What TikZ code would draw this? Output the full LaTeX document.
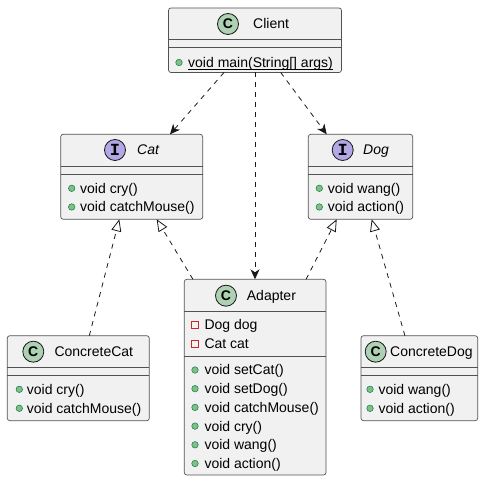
\documentclass[tikz,border=0pt]{standalone}
\usepackage{fontspec}
\setmainfont{Liberation Sans}
\newfontfamily\spotfont{Liberation Mono}
\usetikzlibrary{arrows.meta}
\definecolor{boxfill}{HTML}{F1F1F1}
\definecolor{linec}{HTML}{181818}
\definecolor{spotgreen}{HTML}{ADD1B2}
\definecolor{spotpurple}{HTML}{B4A7E5}
\definecolor{pubfill}{HTML}{84BE84}
\definecolor{pubdraw}{HTML}{038048}
\definecolor{privdraw}{HTML}{C82829}
\tikzset{
  umlbox/.style={draw=linec!75, fill=boxfill, rounded corners=2.5pt, line width=0.7pt, inner sep=0pt, outer sep=0pt},
  sepline/.style={draw=linec!75, line width=0.7pt},
  spotC/.style={circle, draw=linec, fill=spotgreen, line width=0.8pt, minimum size=21pt, inner sep=0pt, font=\bfseries\fontsize{14}{14}\selectfont},
  spotI/.style={circle, draw=linec, fill=spotpurple, line width=0.8pt, minimum size=21pt, inner sep=0pt, font=\spotfont\bfseries\fontsize{17}{17}\selectfont},
  cname/.style={anchor=west, inner sep=0pt, text height=10pt, text depth=0pt, font=\fontsize{14}{16}\selectfont},
  iname/.style={cname, font=\itshape\fontsize{14}{16}\selectfont},
  member/.style={anchor=west, inner sep=0pt, text height=10pt, text depth=0pt, font=\fontsize{14}{16}\selectfont},
  pub/.style={circle, fill=pubfill, draw=pubdraw, minimum size=6.5pt, inner sep=0pt, line width=0.5pt},
  priv/.style={rectangle, draw=privdraw, minimum size=6.5pt, inner sep=0pt, line width=0.8pt},
  uline/.style={draw=black, line width=0.8pt},
  dep/.style={draw=linec, line width=0.8pt, dash pattern=on 5pt off 5pt, -{Stealth[length=10pt,width=9pt,inset=3pt]}},
  real/.style={draw=linec, line width=0.8pt, dash pattern=on 5pt off 5pt, -{Triangle[open,length=12pt,width=10pt]}}
}
\begin{document}
\begin{tikzpicture}[x=1pt,y=-1pt]
\useasboundingbox (0,0) rectangle (483,481);

% Client
\node[umlbox, minimum width=173pt, minimum height=64.5pt] (client) at (255,40.25) {};
\draw[sepline] (client.west |- 0,39.3) -- (client.east |- 0,39.3);
\draw[sepline] (client.west |- 0,47.3) -- (client.east |- 0,47.3);
\node[spotC] (clientspot) at (228,24) {C};
\node[cname] (clientname) at (253,24) {Client};
\node[pub] (cm1i) at (179,62.5) {};
\node[member] (cm1) at (188,62.5) {void main(String[] args)};
\draw[uline] ([yshift=-2pt]cm1.south west) -- ([yshift=-2pt]cm1.south east);

% Cat
\node[umlbox, minimum width=142pt, minimum height=85pt] (cat) at (131.7,176.8) {};
\draw[sepline] (cat.west |- 0,166.7) -- (cat.east |- 0,166.7);
\draw[sepline] (cat.west |- 0,174.3) -- (cat.east |- 0,174.3);
\node[spotI] (catspot) at (115,150) {I};
\node[iname] (catname) at (137,150) {Cat};
\node[pub] (catm1i) at (71.7,188.3) {};
\node[member] (catm1) at (80,188.3) {void cry()};
\node[pub] (catm2i) at (71.7,207) {};
\node[member] (catm2) at (80,207) {void catchMouse()};

% Dog
\node[umlbox, minimum width=104.4pt, minimum height=85pt] (dog) at (360.5,176.8) {};
\draw[sepline] (dog.west |- 0,166.7) -- (dog.east |- 0,166.7);
\draw[sepline] (dog.west |- 0,174.3) -- (dog.east |- 0,174.3);
\node[spotI] (dogspot) at (342.7,150) {I};
\node[iname] (dogname) at (363,150) {Dog};
\node[pub] (dogm1i) at (319.3,188.3) {};
\node[member] (dogm1) at (327.7,188.3) {void wang()};
\node[pub] (dogm2i) at (319.3,207) {};
\node[member] (dogm2) at (327.7,207) {void action()};

% Adapter
\node[umlbox, minimum width=141.7pt, minimum height=195.7pt] (adapter) at (255.15,377.15) {};
\draw[sepline] (adapter.west |- 0,311.7) -- (adapter.east |- 0,311.7);
\draw[sepline] (adapter.west |- 0,356.7) -- (adapter.east |- 0,356.7);
\node[spotC] (adspot) at (226,295.7) {C};
\node[cname] (adname) at (246.7,295.7) {Adapter};
\node[priv] (adf1i) at (195,325) {};
\node[member] (adf1) at (204.3,325) {Dog dog};
\node[priv] (adf2i) at (195,344) {};
\node[member] (adf2) at (204.3,344) {Cat cat};
\node[pub] (adm1i) at (195,370) {};
\node[member] (adm1) at (204.3,370) {void setCat()};
\node[pub] (adm2i) at (195,388.7) {};
\node[member] (adm2) at (204.3,388.7) {void setDog()};
\node[pub] (adm3i) at (195,407.4) {};
\node[member] (adm3) at (204.3,407.4) {void catchMouse()};
\node[pub] (adm4i) at (195,426.1) {};
\node[member] (adm4) at (204.3,426.1) {void cry()};
\node[pub] (adm5i) at (195,444.8) {};
\node[member] (adm5) at (204.3,444.8) {void wang()};
\node[pub] (adm6i) at (195,463.5) {};
\node[member] (adm6) at (204.3,463.5) {void action()};

% ConcreteCat
\node[umlbox, minimum width=142pt, minimum height=85pt] (ccat) at (78.3,378.2) {};
\draw[sepline] (ccat.west |- 0,367.3) -- (ccat.east |- 0,367.3);
\draw[sepline] (ccat.west |- 0,375) -- (ccat.east |- 0,375);
\node[spotC] (ccatspot) at (33.3,351.7) {C};
\node[cname] (ccatname) at (54.3,351.7) {ConcreteCat};
\node[pub] (ccm1i) at (19.3,389.3) {};
\node[member] (ccm1) at (26.7,389.3) {void cry()};
\node[pub] (ccm2i) at (19.3,408.3) {};
\node[member] (ccm2) at (26.7,408.3) {void catchMouse()};

% ConcreteDog
\node[umlbox, minimum width=116.7pt, minimum height=85pt] (cdog) at (419.35,378.2) {};
\draw[sepline] (cdog.west |- 0,367.3) -- (cdog.east |- 0,367.3);
\draw[sepline] (cdog.west |- 0,375) -- (cdog.east |- 0,375);
\node[spotC] (cdogspot) at (375.7,351.7) {C};
\node[cname] (cdogname) at (390,351.7) {ConcreteDog};
\node[pub] (cdm1i) at (370,389.3) {};
\node[member] (cdm1) at (378.3,389.3) {void wang()};
\node[pub] (cdm2i) at (370,408.3) {};
\node[member] (cdm2) at (378.3,408.3) {void action()};

% Dependencies
\draw[dep] ([xshift=-31pt]client.south) -- ([xshift=38.3pt]cat.north);
\draw[dep] (client.south) -- (client.south |- adapter.north);
\draw[dep] ([xshift=25.7pt]client.south) -- ([xshift=-33.8pt]dog.north);

% Realizations
\draw[real] ([xshift=11pt]ccat.north) -- ([xshift=-12.4pt]cat.south);
\draw[real] ([xshift=-62.2pt]adapter.north) -- ([xshift=25pt]cat.south);
\draw[real] ([xshift=50.9pt]adapter.north) -- ([xshift=-23.8pt]dog.south);
\draw[real] ([xshift=-14.4pt]cdog.north) -- ([xshift=11.2pt]dog.south);
\end{tikzpicture}
\end{document}
